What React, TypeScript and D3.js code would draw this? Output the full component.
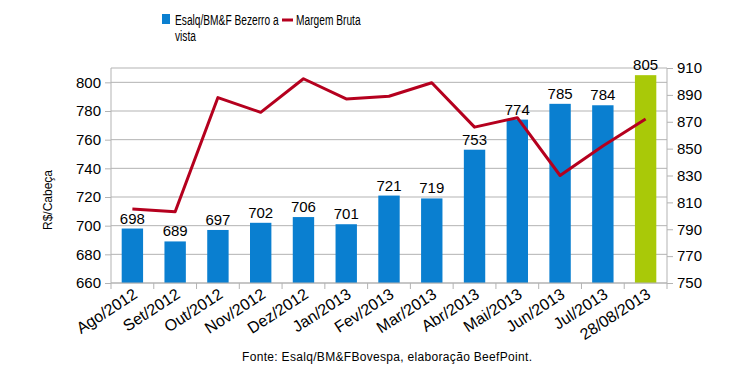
import React, { useRef, useEffect } from 'react';
import * as d3 from 'd3';

const categories = ['Ago/2012', 'Set/2012', 'Out/2012', 'Nov/2012', 'Dez/2012', 'Jan/2013', 'Fev/2013', 'Mar/2013', 'Abr/2013', 'Mai/2013', 'Jun/2013', 'Jul/2013', '28/08/2013'];
const bezerro = [698, 689, 697, 702, 706, 701, 721, 719, 753, 774, 785, 784, 805];
const margem = [805, 803, 888, 877, 902, 887, 889, 899, 866, 873, 830, 852, 872];
const leftTicks = [660, 680, 700, 720, 740, 760, 780, 800];
const rightTicks = [750, 770, 790, 810, 830, 850, 870, 890, 910];

const W = 731;
const H = 385;
const margin = { top: 68, right: 64, bottom: 102, left: 111 };
const font = '"Liberation Sans", Arial, sans-serif';

const App: React.FC = () => {
  const svgRef = useRef<SVGSVGElement | null>(null);

  useEffect(() => {
    if (!svgRef.current) return;
    const svg = d3.select(svgRef.current);
    svg.selectAll('*').remove();

    const innerWidth = W - margin.left - margin.right;
    const innerHeight = H - margin.top - margin.bottom;

    const g = svg.append('g').attr('transform', `translate(${margin.left}, ${margin.top})`);

    const x = d3.scaleBand().domain(categories).range([0, innerWidth]).paddingInner(0.5).paddingOuter(0.25);
    const step = innerWidth / categories.length;
    const yLeft = d3.scaleLinear().domain([660, 810]).range([innerHeight, 0]);
    const yRight = d3.scaleLinear().domain([750, 910]).range([innerHeight, 0]);

    // gridlines
    g.selectAll('.grid')
      .data(leftTicks.concat([810]))
      .enter()
      .append('line')
      .attr('x1', 0)
      .attr('x2', innerWidth)
      .attr('y1', d => yLeft(d))
      .attr('y2', d => yLeft(d))
      .attr('stroke', '#b3b3b3')
      .attr('stroke-width', 1);

    // bars
    g.selectAll('.bar')
      .data(bezerro)
      .enter()
      .append('rect')
      .attr('x', (d, i) => x(categories[i])!)
      .attr('y', d => yLeft(d))
      .attr('width', x.bandwidth())
      .attr('height', d => innerHeight - yLeft(d))
      .attr('fill', (d, i) => (i === categories.length - 1 ? '#a9c908' : '#0a7fd0'));

    g.selectAll('.bar-label')
      .data(bezerro)
      .enter()
      .append('text')
      .attr('x', (d, i) => x(categories[i])! + x.bandwidth() / 2)
      .attr('y', d => yLeft(d) - 5)
      .attr('text-anchor', 'middle')
      .attr('font-family', font)
      .attr('font-size', '15px')
      .attr('fill', '#000')
      .text(d => String(d));

    // line
    const line = d3.line<number>()
      .x((d, i) => x(categories[i])! + x.bandwidth() / 2)
      .y(d => yRight(d));
    g.append('path')
      .datum(margem)
      .attr('d', line)
      .attr('fill', 'none')
      .attr('stroke', '#b5001e')
      .attr('stroke-width', 3)
      .attr('stroke-linejoin', 'round');

    // axes
    const axisColor = '#b3b3b3';
    const leftAxis = g.append('g').call(d3.axisLeft(yLeft).tickValues(leftTicks).tickSize(6).tickPadding(4));
    const rightAxis = g.append('g').attr('transform', `translate(${innerWidth}, 0)`)
      .call(d3.axisRight(yRight).tickValues(rightTicks).tickSize(6).tickPadding(4));
    [leftAxis, rightAxis].forEach(a => {
      a.select('.domain').attr('stroke', axisColor).attr('d', `M0,0V${innerHeight}`);
      a.selectAll('.tick line').attr('stroke', axisColor);
      a.selectAll('.tick text').attr('font-family', font).attr('font-size', '15px').attr('fill', '#000');
    });

    // x axis
    const xg = g.append('g').attr('transform', `translate(0, ${innerHeight})`);
    xg.append('line').attr('x1', 0).attr('x2', innerWidth).attr('stroke', axisColor);
    xg.selectAll('.xtick')
      .data(d3.range(categories.length + 1))
      .enter()
      .append('line')
      .attr('x1', i => i * step)
      .attr('x2', i => i * step)
      .attr('y1', 0)
      .attr('y2', 6)
      .attr('stroke', axisColor);
    xg.selectAll('.xlabel')
      .data(categories)
      .enter()
      .append('text')
      .attr('transform', d => `translate(${x(d)! + x.bandwidth() / 2 + 6}, 14) rotate(-33)`)
      .attr('text-anchor', 'end')
      .attr('font-family', font)
      .attr('font-size', '16px')
      .attr('fill', '#000')
      .text(d => d);

    // y title
    svg.append('text')
      .attr('transform', `translate(52, 200) rotate(-90)`)
      .attr('text-anchor', 'middle')
      .attr('font-family', font)
      .attr('font-size', '12px')
      .attr('fill', '#000')
      .text('R$/Cabeça');

    // legend (narrow font look, squeezed horizontally)
    const lg = svg.append('g').attr('font-family', font).attr('font-size', '15px').attr('fill', '#000');
    lg.append('rect').attr('x', 162).attr('y', 14).attr('width', 8).attr('height', 10).attr('fill', '#0a7fd0');
    const t1 = lg.append('g').attr('transform', 'translate(175, 25) scale(0.68, 1)');
    t1.append('text').attr('x', 0).attr('y', 0).text('Esalq/BM&F Bezerro a');
    t1.append('text').attr('x', 0).attr('y', 16).text('vista');
    lg.append('line').attr('x1', 282).attr('x2', 293).attr('y1', 20).attr('y2', 20).attr('stroke', '#b5001e').attr('stroke-width', 3);
    lg.append('g').attr('transform', 'translate(296, 25) scale(0.68, 1)')
      .append('text').attr('x', 0).attr('y', 0).text('Margem Bruta');

    // source
    svg.append('text')
      .attr('x', 242)
      .attr('y', 361)
      .attr('textLength', 290)
      .attr('font-family', font)
      .attr('font-size', '12px')
      .attr('fill', '#000')
      .text('Fonte: Esalq/BM&FBovespa, elaboração BeefPoint.');
  }, []);

  return (
    <svg ref={svgRef} width={W} height={H} style={{ display: 'block', position: 'absolute', left: 0, top: 0, background: '#fff' }}></svg>
  );
};

export default App;
